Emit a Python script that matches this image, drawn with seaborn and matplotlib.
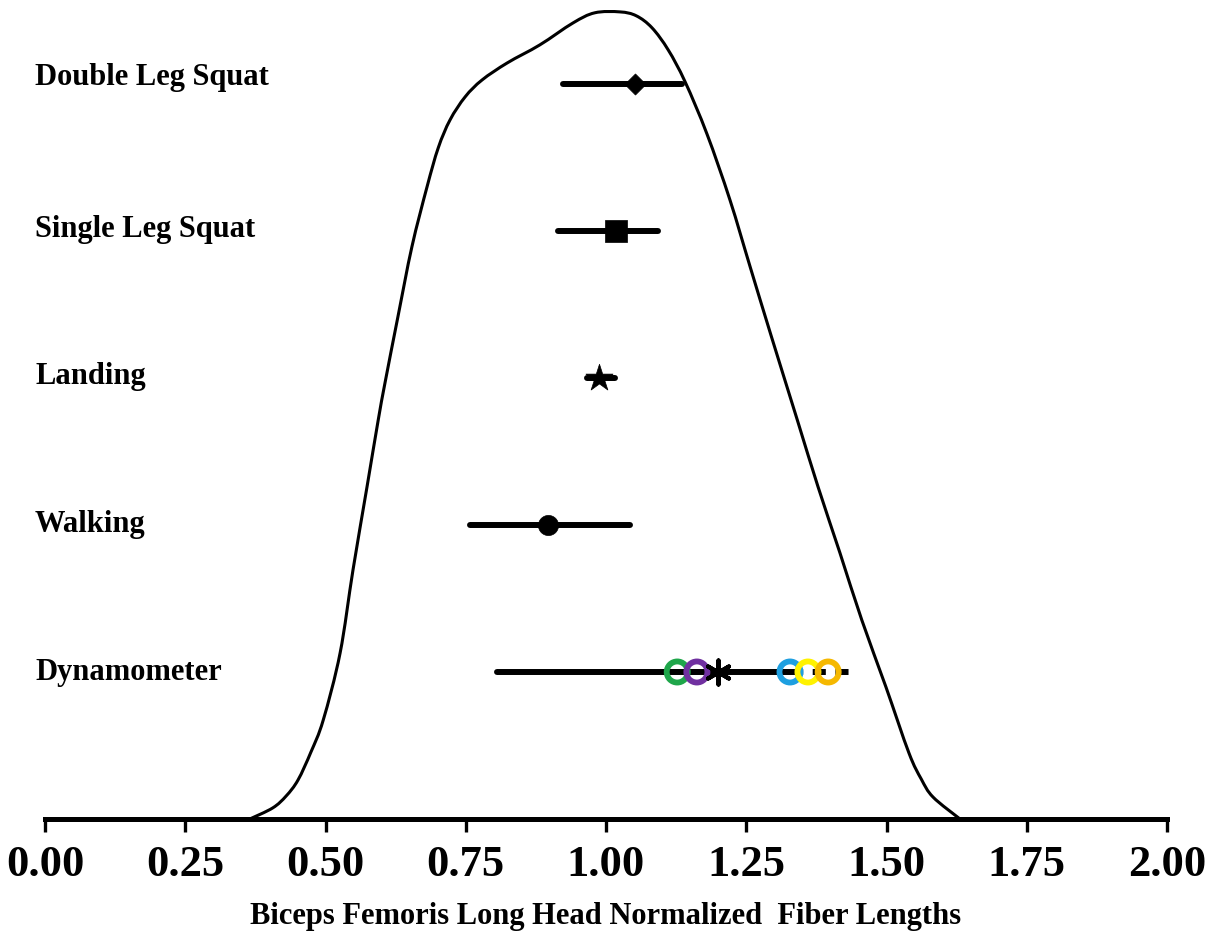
import matplotlib
matplotlib.use("Agg")
import matplotlib.pyplot as plt
import matplotlib.transforms as mtransforms
from matplotlib.path import Path
from matplotlib.patches import PathPatch
import seaborn as sns
import pandas as pd

# ---------------- data ----------------
categories = ["Double Leg Squat", "Single Leg Squat", "Landing", "Walking", "Dynamometer"]
means = [1.052, 1.018, 0.988, 0.897, 1.200]
lows = [0.923, 0.915, 0.966, 0.758, 0.806]
highs = [1.135, 1.093, 1.016, 1.043, 1.435]
markers = ["D", "s", "*", "o", (6, 2, 0)]

# individual dynamometer studies
dyn_values = [1.127, 1.162, 1.328, 1.360, 1.396]
dyn_colors = ["#1FA64A", "#7030A0", "#1E9FE0", "#FFF200", "#F5B800"]

# density curve
curve_x = [0.365, 0.406, 0.430, 0.451, 0.474, 0.496, 0.526, 0.549, 0.574, 0.594,
           0.606, 0.629, 0.654, 0.681, 0.701, 0.722, 0.749, 0.779, 0.824, 0.882,
           0.941, 0.980, 1.025, 1.054, 1.082, 1.111, 1.141, 1.180, 1.221, 1.257,
           1.294, 1.341, 1.378, 1.417, 1.456, 1.499, 1.540, 1.562, 1.583, 1.631]
curve_y = [0.000, 0.037, 0.077, 0.130, 0.223, 0.330, 0.553, 0.830, 1.107, 1.330,
           1.453, 1.673, 1.907, 2.107, 2.237, 2.330, 2.407, 2.463, 2.520, 2.580,
           2.653, 2.687, 2.690, 2.677, 2.637, 2.563, 2.457, 2.283, 2.063, 1.840,
           1.613, 1.330, 1.107, 0.887, 0.663, 0.440, 0.220, 0.133, 0.073, 0.000]

x_ticks = [0.0, 0.25, 0.50, 0.75, 1.00, 1.25, 1.50, 1.75, 2.00]
x_label = "Biceps Femoris Long Head Normalized  Fiber Lengths"

# ---------------- style ----------------
sns.set_theme(style="white")
plt.rcParams["font.family"] = ["Liberation Serif", "DejaVu Serif"]
plt.rcParams["font.weight"] = "bold"
plt.rcParams["text.color"] = "black"
plt.rcParams["xtick.color"] = "black"
plt.rcParams["axes.labelcolor"] = "black"

W, H = 1215, 937
fig = plt.figure(figsize=(W / 100, H / 100), dpi=100)
base_px = 820
ax = fig.add_axes([45 / W, (H - base_px) / H, 1122 / W, base_px / H])

# density curve: smooth path through the read points (Catmull-Rom -> Bezier)
pts = list(zip(curve_x, curve_y))
verts = [pts[0]]
codes = [Path.MOVETO]
n = len(pts)
for i in range(n - 1):
    p0 = pts[i - 1] if i > 0 else pts[i]
    p1 = pts[i]
    p2 = pts[i + 1]
    p3 = pts[i + 2] if i + 2 < n else pts[i + 1]
    c1 = (p1[0] + (p2[0] - p0[0]) / 6, p1[1] + (p2[1] - p0[1]) / 6)
    c2 = (p2[0] - (p3[0] - p1[0]) / 6, p2[1] - (p3[1] - p1[1]) / 6)
    verts += [c1, c2, p2]
    codes += [Path.CURVE4] * 3
ax.add_patch(PathPatch(Path(verts, codes), facecolor="none", edgecolor="black",
                       linewidth=2.2, zorder=3))
ax.set_xlim(0, 2.0)
ax.set_ylim(0, 2.733)

for s in ["top", "right", "left"]:
    ax.spines[s].set_visible(False)
ax.spines["bottom"].set_linewidth(3.6)
ax.spines["bottom"].set_color("black")
ax.set_yticks([])
ax.set_xticks(x_ticks)
ax.set_xticklabels([f"{t:.2f}" for t in x_ticks], fontsize=32, fontweight="bold",
                   color="black")
ax.tick_params(axis="x", direction="out", length=9, width=2.4, color="black", pad=9,
               bottom=True, labelcolor="black")
ax.set_xlabel(x_label, fontsize=22, fontweight="bold", labelpad=12, color="black")

# rows axis
ax2 = ax.twinx()
ax2.set_ylim(5, -0.578)
ax2.set_yticks([])
for s in ["top", "right", "left", "bottom"]:
    ax2.spines[s].set_visible(False)

rows = list(range(len(categories)))

# ranges
for i in rows:
    if categories[i] == "Dynamometer":
        ax2.plot([lows[i], dyn_values[2]], [i, i], color="black", lw=4.3,
                 solid_capstyle="round", zorder=2)
        ax2.plot([dyn_values[2], highs[i]], [i, i], color="black", lw=4.3,
                 dashes=(2.2, 1.6), dash_capstyle="butt", zorder=2)
    else:
        ax2.plot([lows[i], highs[i]], [i, i], color="black", lw=4.3,
                 solid_capstyle="round", zorder=2)

sizes = {"D": 115, "s": 230, "*": 420, "o": 210}
for i in rows:
    df = pd.DataFrame({"x": [means[i]], "y": [i]})
    m = markers[i]
    if isinstance(m, tuple):
        continue
    sns.scatterplot(data=df, x="x", y="y", ax=ax2, marker=m, s=sizes[m],
                    color="black", edgecolor="black", linewidth=0.5, zorder=4,
                    legend=False)

# dynamometer individual studies
dyn_row = categories.index("Dynamometer")
dyn_df = pd.DataFrame({"x": dyn_values, "y": [dyn_row] * len(dyn_values),
                       "study": [f"s{k}" for k in range(len(dyn_values))]})
sns.scatterplot(data=dyn_df, x="x", y="y", hue="study", palette=dyn_colors, ax=ax2,
                marker="o", s=230, linewidth=4.2, zorder=5, legend=False)
coll = ax2.collections[-1]
coll.set_facecolor("none")
coll.set_edgecolor(dyn_colors)
# dynamometer mean (asterisk)
sns.scatterplot(x=[means[dyn_row]], y=[dyn_row], ax=ax2, marker=(6, 2, 0), s=300,
                color="black", edgecolor="black", linewidth=3.0, zorder=6,
                legend=False)

ax2.set_xlabel("")
ax2.set_ylabel("")
ax.set_ylabel("")

# category labels
trans = mtransforms.blended_transform_factory(ax2.transAxes, ax2.transData)
label_offsets = [-0.05, -0.02, -0.02, -0.01, 0.0]
for i, c in enumerate(categories):
    ax2.text(-10 / 1122, i + label_offsets[i], c, transform=trans, ha="left",
             va="center", fontsize=22, fontweight="bold", color="black")

fig.savefig("out.png", dpi=100, facecolor="white")
